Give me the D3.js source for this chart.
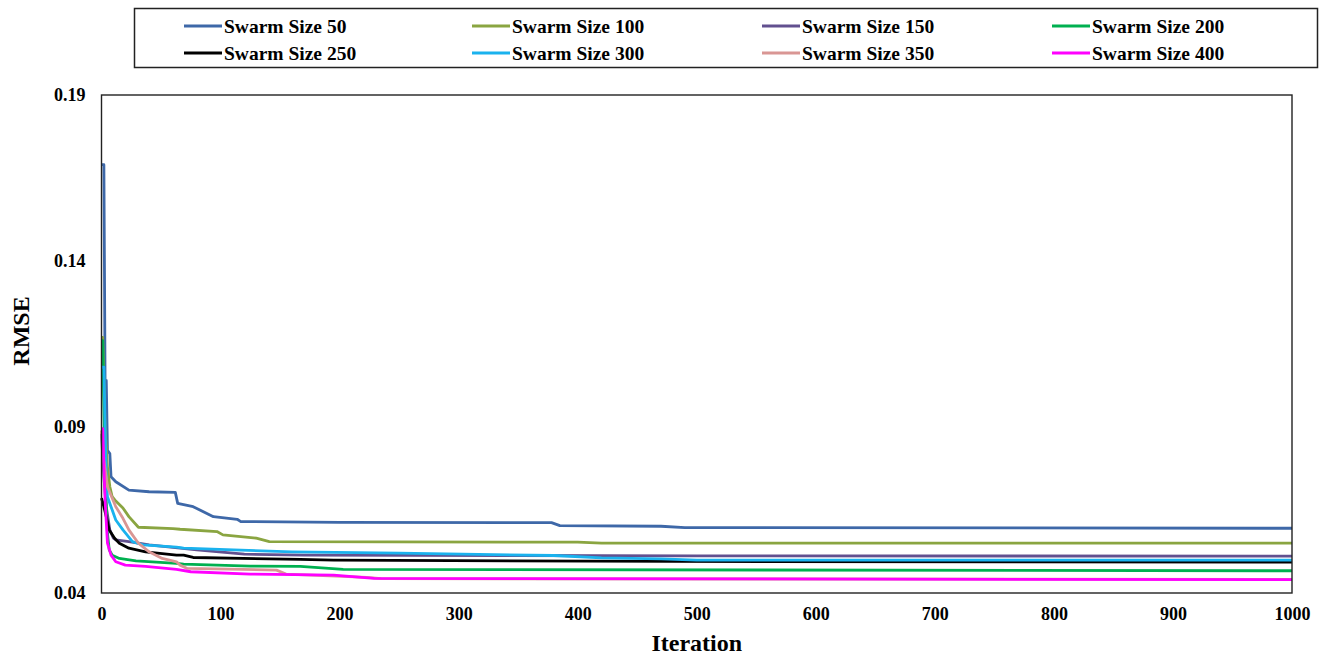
<!DOCTYPE html>
<html>
<head>
<meta charset="utf-8">
<script src="https://cdn.jsdelivr.net/npm/d3@7"></script>
<style>
  html, body { margin: 0; padding: 0; background: #fff; }
  svg { display: block; }
  text { font-family: "Liberation Serif", "Times New Roman", serif; font-weight: bold; fill: #000; }
</style>
</head>
<body>
<svg id="chart" width="1324" height="658"></svg>
<script>
// ---- data (iteration, RMSE) ----
const seriesNames = ["Swarm Size 50", "Swarm Size 100", "Swarm Size 150", "Swarm Size 200",
                     "Swarm Size 250", "Swarm Size 300", "Swarm Size 350", "Swarm Size 400"];
const seriesColors = ["#3E68A8", "#8AA541", "#62508F", "#00B050", "#000000", "#1AB2EE", "#D99694", "#FF00FF"];

const s50 = [[0,0.169],[2,0.169],[3,0.104],[4,0.104],[5,0.083],[7,0.082],[8,0.075],[12,0.0735],[23,0.071],[40,0.0705],[62,0.0703],[64,0.067],[77,0.066],[94,0.063],[114,0.0622],[117,0.0615],[200,0.0613],[378,0.0612],[385,0.0603],[470,0.0601],[490,0.0597],[1000,0.0595]];
const s100 = [[0,0.117],[1,0.117],[3,0.09],[5,0.078],[7,0.072],[9,0.069],[12,0.0677],[18,0.0656],[23,0.063],[31,0.0598],[60,0.0594],[66,0.0592],[97,0.0585],[102,0.0575],[130,0.0565],[141,0.0555],[400,0.0553],[420,0.0550],[1000,0.0550]];
const s150 = [[0,0.088],[2,0.075],[4,0.066],[7,0.059],[10,0.0565],[12,0.056],[23,0.0555],[31,0.055],[40,0.0545],[80,0.053],[120,0.0517],[170,0.0514],[500,0.0512],[1000,0.0511]];
const s200 = [[0,0.116],[1,0.116],[3,0.075],[5,0.058],[6.5,0.053],[9,0.0514],[15,0.0504],[29,0.0497],[63,0.0489],[69,0.0487],[125,0.0481],[167,0.048],[203,0.0471],[1000,0.0467]];
const s250 = [[0,0.0686],[2,0.066],[4,0.063],[6.5,0.059],[11,0.0565],[15,0.055],[23,0.0535],[37,0.0524],[63,0.0514],[69,0.0514],[77,0.0507],[167,0.0501],[195,0.0499],[480,0.0495],[1000,0.0493]];
const s300 = [[0,0.108],[2,0.108],[3,0.09],[4,0.075],[5,0.069],[8,0.066],[12,0.062],[18,0.059],[26,0.0555],[35,0.0545],[63,0.0538],[69,0.0535],[111,0.053],[160,0.0524],[250,0.052],[380,0.0513],[420,0.0506],[470,0.0503],[500,0.0499],[1000,0.0499]];
const s350 = [[0,0.089],[2,0.080],[5,0.072],[12,0.066],[18,0.0625],[23,0.059],[31,0.055],[40,0.0524],[51,0.0504],[63,0.0494],[66,0.0484],[72,0.0474],[147,0.0469],[155,0.0457],[223,0.0447],[235,0.0443],[1000,0.0441]];
const s400 = [[0,0.0895],[1,0.0895],[3,0.068],[5,0.055],[8,0.0514],[12,0.0494],[20,0.0484],[37,0.048],[63,0.0471],[75,0.0464],[125,0.0457],[195,0.0454],[229,0.0444],[1000,0.0440]];

const xTicks = [0, 100, 200, 300, 400, 500, 600, 700, 800, 900, 1000];
const yTicks = [0.04, 0.09, 0.14, 0.19];
const xTitle = "Iteration";
const yTitle = "RMSE";

const allSeries = [s50, s100, s150, s200, s250, s300, s350, s400];

// ---- layout ----
const W = 1324, H = 658;
const margin = { left: 101.5, right: 32, top: 95, bottom: 65 };
const svg = d3.select("#chart");

const x = d3.scaleLinear().domain([0, 1000]).range([margin.left, W - margin.right]);
const y = d3.scaleLinear().domain([0.04, 0.19]).range([H - margin.bottom, margin.top]);

// axes
const xAxis = d3.axisBottom(x).tickValues(xTicks).tickFormat(d3.format("d")).tickSize(0).tickPadding(14);
const yAxis = d3.axisLeft(y).tickValues(yTicks).tickFormat(d3.format(".2f")).tickSize(0).tickPadding(16);

const gx = svg.append("g").attr("transform", `translate(0,${H - margin.bottom})`).call(xAxis);
const gy = svg.append("g").attr("transform", `translate(${margin.left},0)`).call(yAxis);
[gx, gy].forEach(g => {
  g.select(".domain").remove();
  g.selectAll("text").style("font-family", "'Liberation Serif', serif").style("font-weight", "bold").style("font-size", "18px").attr("fill", "#000");
});

// series lines
const line = d3.line().x(d => x(d[0])).y(d => y(d[1]));
const gLines = svg.append("g");
allSeries.forEach((s, i) => {
  gLines.append("path").datum(s)
    .attr("d", line)
    .attr("fill", "none")
    .attr("stroke", seriesColors[i])
    .attr("stroke-width", 2.8)
    .attr("stroke-linejoin", "round");
});

// plot frame
svg.append("rect")
  .attr("x", x(0)).attr("y", y(0.19))
  .attr("width", x(1000) - x(0)).attr("height", y(0.04) - y(0.19))
  .attr("fill", "none").attr("stroke", "#222").attr("stroke-width", 1.4);

// titles
svg.append("text").attr("x", (x(0) + x(1000)) / 2).attr("y", 651)
  .attr("text-anchor", "middle").style("font-size", "24px").text(xTitle);
svg.append("text").attr("transform", `translate(29,331) rotate(-90)`)
  .attr("text-anchor", "middle").style("font-size", "24px").text(yTitle);

// legend
svg.append("rect").attr("x", 134.5).attr("y", 8.5).attr("width", 1183).attr("height", 59)
  .attr("fill", "#fff").attr("stroke", "#222").attr("stroke-width", 1.5);
const colX = [184, 472, 762, 1052];
const rowY = [26, 53];
seriesNames.forEach((name, i) => {
  const cx = colX[i % 4], cy = rowY[Math.floor(i / 4)];
  svg.append("line").attr("x1", cx).attr("x2", cx + 38).attr("y1", cy).attr("y2", cy)
    .attr("stroke", seriesColors[i]).attr("stroke-width", 2.8);
  svg.append("text").attr("x", cx + 40).attr("y", cy + 7)
    .style("font-size", "19.5px").text(name);
});
</script>
</body>
</html>
